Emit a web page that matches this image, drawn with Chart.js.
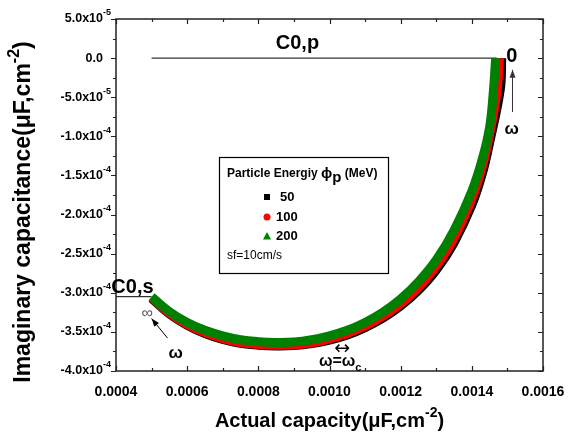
<!DOCTYPE html>
<html><head><meta charset="utf-8">
<script src="https://cdn.jsdelivr.net/npm/chart.js@4/dist/chart.umd.min.js"></script>
<style>html,body{margin:0;padding:0;background:#fff}</style>
</head><body>
<canvas id="c" width="575" height="436" style="width:575px;height:436px"></canvas>
<script>
// ---- data ----
const seriesNames = ['50', '100', '200'];
const xs50  = [0.00050,0.00055,0.00060,0.00065,0.00070,0.00075,0.00080,0.00085,0.00090,0.00095,0.00100,0.00105,0.00110,0.00115,0.00120,0.00125,0.00130,0.00135,0.00140,0.00143,0.00145,0.00148,0.001484];
const ys50  = [-3.07e-4,-3.27e-4,-3.415e-4,-3.52e-4,-3.595e-4,-3.645e-4,-3.67e-4,-3.68e-4,-3.675e-4,-3.65e-4,-3.605e-4,-3.54e-4,-3.445e-4,-3.325e-4,-3.17e-4,-2.97e-4,-2.71e-4,-2.36e-4,-1.88e-4,-1.47e-4,-1.08e-4,-0.40e-4,0.0];
const xs100 = [0.00050,0.00055,0.00060,0.00065,0.00070,0.00075,0.00080,0.00085,0.00090,0.00095,0.00100,0.00105,0.00110,0.00115,0.00120,0.00125,0.00130,0.00135,0.00140,0.00143,0.00145,0.00147,0.001478];
const ys100 = [-3.06e-4,-3.26e-4,-3.405e-4,-3.51e-4,-3.585e-4,-3.635e-4,-3.66e-4,-3.67e-4,-3.665e-4,-3.64e-4,-3.59e-4,-3.52e-4,-3.425e-4,-3.30e-4,-3.14e-4,-2.93e-4,-2.66e-4,-2.30e-4,-1.80e-4,-1.38e-4,-0.98e-4,-0.45e-4,0.0];
const xs200 = [0.00050,0.00055,0.00060,0.00065,0.00070,0.00075,0.00080,0.00085,0.00090,0.00095,0.00100,0.00105,0.00110,0.00115,0.00120,0.00125,0.00130,0.00135,0.00140,0.00143,0.00145,0.00146,0.001467];
const ys200 = [-3.05e-4,-3.24e-4,-3.38e-4,-3.48e-4,-3.55e-4,-3.60e-4,-3.625e-4,-3.635e-4,-3.63e-4,-3.60e-4,-3.55e-4,-3.48e-4,-3.38e-4,-3.25e-4,-3.08e-4,-2.86e-4,-2.58e-4,-2.20e-4,-1.70e-4,-1.28e-4,-0.88e-4,-0.45e-4,0.0];
const c0pX = [0.00050, 0.00147];
const c0pY = [0.0, 0.0];
const c0sX = [0.00040, 0.00050];
const c0sY = [-3.05e-4, -3.05e-4];
// ticks
const xTickVals = [0.0004,0.0006,0.0008,0.0010,0.0012,0.0014,0.0016];
const xTickLabels = ['0.0004','0.0006','0.0008','0.0010','0.0012','0.0014','0.0016'];
const xMinorVals = [0.0005,0.0007,0.0009,0.0011,0.0013,0.0015];
const yTickVals = [5e-5,0,-5e-5,-1e-4,-1.5e-4,-2e-4,-2.5e-4,-3e-4,-3.5e-4,-4e-4];
const yTickMant = ['5.0x10','0.0','-5.0x10','-1.0x10','-1.5x10','-2.0x10','-2.5x10','-3.0x10','-3.5x10','-4.0x10'];
const yTickExp  = ['-5','','-5','-4','-4','-4','-4','-4','-4','-4'];
const yMinorVals = [2.5e-5,-2.5e-5,-7.5e-5,-1.25e-4,-1.75e-4,-2.25e-4,-2.75e-4,-3.25e-4,-3.75e-4];

const colors = ['#000000','#ff0000','#008000'];
function pts(xa, ya){ return xa.map((x,i)=>({x:x, y:ya[i]})); }

const F = '"Liberation Sans", Arial, sans-serif';

function supText(ctx, parts, x, y, align){
  let w = 0;
  parts.forEach(p=>{ ctx.font = (p.bold?'bold ':'') + p.size + 'px ' + (p.fam||F); p.w = ctx.measureText(p.t).width; w += p.w; });
  let sx = align==='right' ? x - w : (align==='center' ? x - w/2 : x);
  parts.forEach(p=>{ ctx.font = (p.bold?'bold ':'') + p.size + 'px ' + (p.fam||F); ctx.textAlign='left'; ctx.fillText(p.t, sx, y + (p.dy||0)); sx += p.w; });
  return w;
}
function arrow(ctx, x1,y1,x2,y2, col){
  ctx.save(); ctx.strokeStyle=col; ctx.fillStyle=col; ctx.lineWidth=1;
  ctx.beginPath(); ctx.moveTo(x1,y1); ctx.lineTo(x2,y2); ctx.stroke();
  const a = Math.atan2(y2-y1, x2-x1), L=8, W=3;
  ctx.beginPath(); ctx.moveTo(x2,y2);
  ctx.lineTo(x2 - L*Math.cos(a) + W*Math.sin(a), y2 - L*Math.sin(a) - W*Math.cos(a));
  ctx.lineTo(x2 - L*Math.cos(a) - W*Math.sin(a), y2 - L*Math.sin(a) + W*Math.cos(a));
  ctx.closePath(); ctx.fill(); ctx.restore();
}

const deco = {
  id:'deco',
  afterDraw(chart){
    const ctx = chart.ctx, a = chart.chartArea, xs = chart.scales.x, ys = chart.scales.y;
    ctx.save();
    ctx.fillStyle = '#000';
    ctx.strokeStyle = '#222'; ctx.lineWidth = 1.5;
    ctx.strokeRect(a.left, a.top, a.right-a.left, a.bottom-a.top);
    ctx.lineWidth = 1.2;
    ctx.beginPath();
    xTickVals.forEach(v=>{ const p=Math.round(xs.getPixelForValue(v))+0.5;
      ctx.moveTo(p,a.bottom); ctx.lineTo(p,a.bottom-5); ctx.moveTo(p,a.top); ctx.lineTo(p,a.top+5); });
    xMinorVals.forEach(v=>{ const p=Math.round(xs.getPixelForValue(v))+0.5;
      ctx.moveTo(p,a.bottom); ctx.lineTo(p,a.bottom-3); ctx.moveTo(p,a.top); ctx.lineTo(p,a.top+3); });
    yTickVals.forEach(v=>{ const p=Math.round(ys.getPixelForValue(v))+0.5;
      ctx.moveTo(a.left,p); ctx.lineTo(a.left-5,p); ctx.moveTo(a.right,p); ctx.lineTo(a.right-5,p); });
    yMinorVals.forEach(v=>{ const p=Math.round(ys.getPixelForValue(v))+0.5;
      ctx.moveTo(a.left,p); ctx.lineTo(a.left-3,p); ctx.moveTo(a.right,p); ctx.lineTo(a.right-3,p); });
    ctx.stroke();
    // tick labels
    ctx.textBaseline = 'middle';
    xTickVals.forEach((v,i)=>{ supText(ctx,[{t:xTickLabels[i],size:14,bold:true}], xs.getPixelForValue(v), a.bottom+21, 'center'); });
    yTickVals.forEach((v,i)=>{
      const p = ys.getPixelForValue(v);
      supText(ctx, [{t:yTickMant[i],size:12.5,bold:true}], a.left-13, p, 'right');
      if (yTickExp[i]) supText(ctx, [{t:yTickExp[i],size:9,bold:true}], a.left-13, p-6, 'left');
    });
    // axis titles
    supText(ctx,[{t:'Actual capacity(μF,cm',size:20,bold:true},{t:'-2',size:14,bold:true,dy:-8},{t:')',size:20,bold:true}], (a.left+a.right)/2, 421, 'center');
    ctx.save(); ctx.translate(24, 212); ctx.rotate(-Math.PI/2);
    supText(ctx,[{t:'Imaginary capacitance(μF,cm',size:23,bold:true},{t:'-2',size:16,bold:true,dy:-9},{t:')',size:23,bold:true}], 0, 0, 'center');
    ctx.restore();
    // annotations
    supText(ctx,[{t:'C0,p',size:20,bold:true}], xs.getPixelForValue(0.000910), ys.getPixelForValue(1.9e-5), 'center');
    supText(ctx,[{t:'C0,s',size:20,bold:true}], xs.getPixelForValue(0.000387), ys.getPixelForValue(-2.93e-4), 'left');
    ctx.fillStyle='#555';
    supText(ctx,[{t:'∞',size:16,bold:false}], xs.getPixelForValue(0.000488), ys.getPixelForValue(-3.27e-4), 'center');
    ctx.fillStyle='#000';
    arrow(ctx, xs.getPixelForValue(0.000545), ys.getPixelForValue(-3.58e-4), xs.getPixelForValue(0.000500), ys.getPixelForValue(-3.33e-4), '#000');
    supText(ctx,[{t:'ω',size:17,bold:true}], xs.getPixelForValue(0.000568), ys.getPixelForValue(-3.78e-4), 'center');
    supText(ctx,[{t:'0',size:20,bold:true}], xs.getPixelForValue(0.001512), ys.getPixelForValue(0.2e-5), 'center');
    const ax = Math.round(xs.getPixelForValue(0.001512))+0.5;
    arrow(ctx, ax, ys.getPixelForValue(-6.9e-5), ax, ys.getPixelForValue(-1.5e-5), '#333');
    supText(ctx,[{t:'ω',size:17,bold:true}], xs.getPixelForValue(0.001512), ys.getPixelForValue(-9.1e-5), 'center');
    supText(ctx,[{t:'↔',size:19,bold:false,fam:'"DejaVu Sans", sans-serif'}], xs.getPixelForValue(0.001036), ys.getPixelForValue(-3.725e-4), 'center');
    supText(ctx,[{t:'ω=ω',size:16,bold:true},{t:'c',size:11,bold:true,dy:6}], xs.getPixelForValue(0.001030), ys.getPixelForValue(-3.885e-4), 'center');
    // legend box
    const L=219, T=157, R=388, B=273;
    ctx.strokeStyle='#000'; ctx.lineWidth=1.2;
    ctx.strokeRect(L+0.5,T+0.5,R-L,B-T);
    const ty = 174;
    let w = supText(ctx,[{t:'Particle Energiy ',size:12,bold:true}], 227, ty, 'left');
    let w2 = supText(ctx,[{t:'ϕ',size:15,bold:true}], 227+w, ty, 'left');
    let w3 = supText(ctx,[{t:'p',size:15,bold:true,dy:4}], 227+w+w2, ty, 'left');
    supText(ctx,[{t:' (MeV)',size:12,bold:true}], 227+w+w2+w3, ty, 'left');
    const ly=[197,217,236];
    ctx.fillStyle=colors[0]; ctx.fillRect(264,ly[0]-3,6,6);
    ctx.fillStyle=colors[1]; ctx.beginPath(); ctx.arc(267,ly[1],3.5,0,Math.PI*2); ctx.fill();
    ctx.fillStyle=colors[2]; ctx.beginPath(); ctx.moveTo(267,ly[2]-4); ctx.lineTo(271,ly[2]+3.5); ctx.lineTo(263,ly[2]+3.5); ctx.closePath(); ctx.fill();
    ctx.fillStyle='#000';
    supText(ctx,[{t:seriesNames[0],size:13,bold:true}], 280, ly[0], 'left');
    supText(ctx,[{t:seriesNames[1],size:13,bold:true}], 276, ly[1], 'left');
    supText(ctx,[{t:seriesNames[2],size:13,bold:true}], 276, ly[2], 'left');
    supText(ctx,[{t:'sf=10cm/s',size:12,bold:false}], 227, 256, 'left');
    ctx.restore();
  }
};

new Chart(document.getElementById('c'), {
  type:'scatter',
  data:{ datasets:[
    {label:'C0,p', data:pts(c0pX,c0pY), showLine:true, borderColor:'#000', borderWidth:1, pointRadius:0, order:4},
    {label:'C0,s', data:pts(c0sX,c0sY), showLine:true, borderColor:'#000', borderWidth:1, pointRadius:0, order:5},
    {label:seriesNames[0], data:pts(xs50,ys50), showLine:true, borderColor:colors[0], borderWidth:9, pointRadius:0, tension:0.4, borderCapStyle:'butt', order:3},
    {label:seriesNames[1], data:pts(xs100,ys100), showLine:true, borderColor:colors[1], borderWidth:9, pointRadius:0, tension:0.4, borderCapStyle:'butt', order:2},
    {label:seriesNames[2], data:pts(xs200,ys200), showLine:true, borderColor:colors[2], borderWidth:9, pointRadius:0, tension:0.4, borderCapStyle:'butt', order:1}
  ]},
  options:{
    responsive:false, animation:false, devicePixelRatio:1,
    layout:{padding:{left:116,right:32,top:19,bottom:65}},
    plugins:{legend:{display:false}, tooltip:{enabled:false}},
    scales:{
      x:{type:'linear', min:0.0004, max:0.0016, display:false},
      y:{type:'linear', min:-4e-4, max:5e-5, display:false}
    }
  },
  plugins:[deco]
});
</script>
</body></html>
